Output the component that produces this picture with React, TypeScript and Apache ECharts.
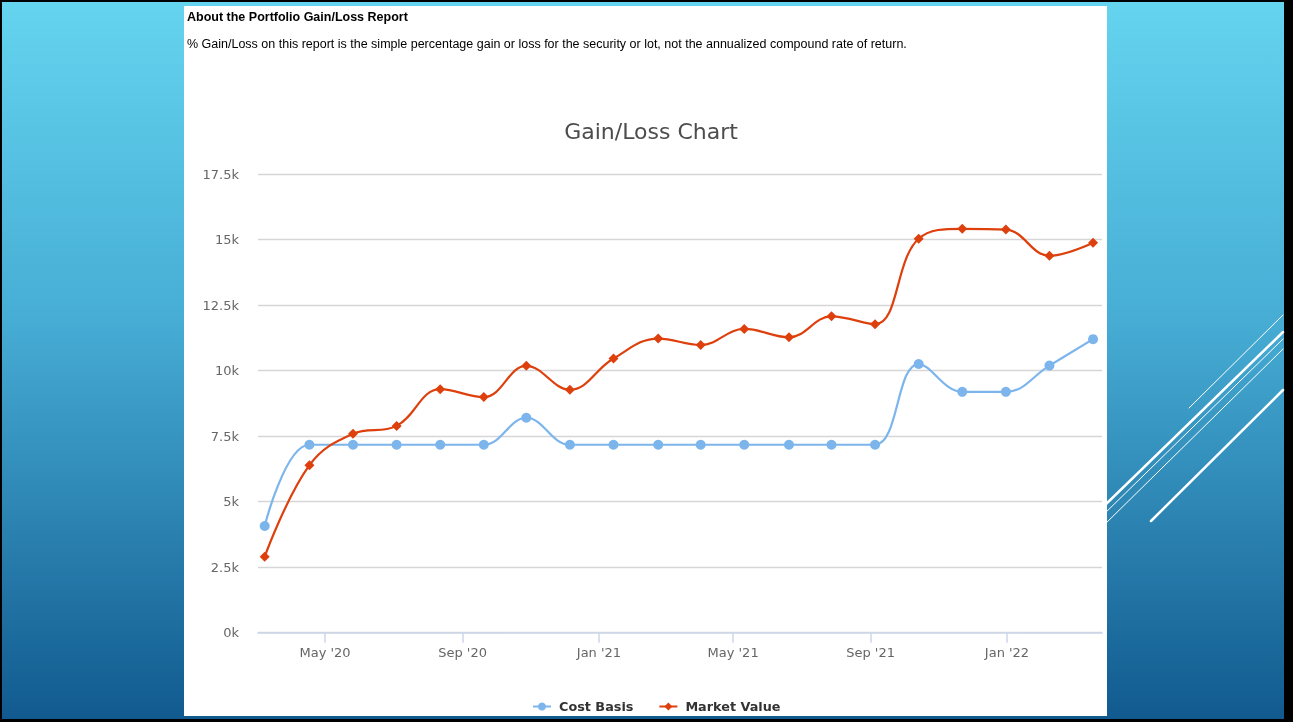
import React, { useEffect, useRef } from "react";
import * as echarts from "echarts";

const pointDates = [
  "2020-03-08", "2020-04-17", "2020-05-26", "2020-07-04", "2020-08-12",
  "2020-09-20", "2020-10-28", "2020-12-06", "2021-01-14", "2021-02-23",
  "2021-04-02", "2021-05-11", "2021-06-20", "2021-07-28", "2021-09-05",
  "2021-10-14", "2021-11-22", "2021-12-31", "2022-02-08", "2022-03-19",
];
const costBasis = [
  4070, 7170, 7170, 7170, 7170, 7170, 8200, 7170, 7170, 7170,
  7170, 7170, 7170, 7170, 7170, 10250, 9190, 9190, 10190, 11200,
];
const marketValue = [
  2900, 6390, 7590, 7890, 9290, 8990, 10180, 9270, 10460, 11220,
  10980, 11590, 11270, 12070, 11770, 15030, 15410, 15380, 14380, 14880,
];
const tickDates = ["2020-05-01", "2020-09-01", "2021-01-01", "2021-05-01", "2021-09-01", "2022-01-01"];
const tickLabels = ["May '20", "Sep '20", "Jan '21", "May '21", "Sep '21", "Jan '22"];
const axisStart = "2020-03-02";
const axisEnd = "2022-03-27";

const ts = (s: string) => {
  const [y, m, d] = s.split("-").map(Number);
  return Date.UTC(y, m - 1, d);
};

export default function App() {
  const ref = useRef<HTMLDivElement>(null);
  useEffect(() => {
    if (!ref.current) return;
    const chart = echarts.init(ref.current, null, { renderer: "svg" });
    const tickTs = tickDates.map(ts);
    const deco = [
      { x1: 1189, y1: 408, x2: 1283, y2: 315, w: 1 },
      { x1: 1100, y1: 510, x2: 1283, y2: 332, w: 2.5 },
      { x1: 1100, y1: 518, x2: 1283, y2: 339, w: 1 },
      { x1: 1100, y1: 529, x2: 1283, y2: 349, w: 1 },
      { x1: 1151, y1: 521, x2: 1283, y2: 390, w: 2.5 },
    ];
    chart.setOption({
      animation: false,
      graphic: [
        { type: "rect", z: -10, shape: { x: 0, y: 0, width: 1293, height: 722 }, style: { fill: "#000" } },
        {
          type: "rect", z: -9,
          shape: { x: 2, y: 2, width: 1282, height: 717 },
          style: {
            fill: new echarts.graphic.LinearGradient(0, 0, 0, 1, [
              { offset: 0, color: "#64d4ef" },
              { offset: 0.45, color: "#46acd4" },
              { offset: 1, color: "#115a8f" },
            ]),
          },
        },
        ...deco.map((d) => ({
          type: "line", z: -8,
          shape: { x1: d.x1, y1: d.y1, x2: d.x2, y2: d.y2 },
          style: { stroke: "#ffffff", lineWidth: d.w, lineCap: "round" },
        })),
        { type: "rect", z: -7, shape: { x: 184, y: 6, width: 923, height: 710 }, style: { fill: "#ffffff" } },
        {
          type: "text", z: -6, x: 187, y: 17,
          style: {
            text: "About the Portfolio Gain/Loss Report",
            font: "bold 12.5px 'Liberation Sans', Arial, sans-serif",
            fill: "#000", verticalAlign: "middle",
          },
        },
        {
          type: "text", z: -6, x: 187, y: 44,
          style: {
            text: "% Gain/Loss on this report is the simple percentage gain or loss for the security or lot, not the annualized compound rate of return.",
            font: "12.5px 'Liberation Sans', Arial, sans-serif",
            fill: "#000", verticalAlign: "middle",
          },
        },
      ],
      title: {
        text: "Gain/Loss Chart",
        left: 651,
        top: 120,
        padding: 0,
        textAlign: "center",
        textStyle: { fontFamily: "DejaVu Sans", fontSize: 22, fontWeight: "normal", color: "#4d4d4d" },
      },
      legend: {
        left: 532,
        top: 700,
        padding: 0,
        itemWidth: 18,
        itemHeight: 10,
        itemGap: 25,
        textStyle: { fontFamily: "DejaVu Sans", fontSize: 12.8, fontWeight: "bold", color: "#333", padding: [0, 0, 0, 3] },
        data: ["Cost Basis", "Market Value"],
      },
      grid: { left: 258, right: 191, top: 174, bottom: 89.3, containLabel: false },
      xAxis: {
        type: "value",
        min: ts(axisStart),
        max: ts(axisEnd),
        axisLine: { show: true, lineStyle: { color: "#ccd6eb", width: 1.5 } },
        axisTick: { show: true, customValues: tickTs, length: 10, lineStyle: { color: "#ccd6eb", width: 1.5 } },
        axisLabel: {
          customValues: tickTs,
          formatter: (v: number) => {
            const i = tickTs.indexOf(v);
            return i >= 0 ? tickLabels[i] : "";
          },
          color: "#666",
          fontFamily: "DejaVu Sans",
          fontSize: 13,
          margin: 13,
        },
        splitLine: { show: false },
      },
      yAxis: {
        type: "value",
        min: 0,
        max: 17500,
        interval: 2500,
        axisLine: { show: false },
        axisTick: { show: false },
        axisLabel: {
          formatter: (v: number) => v / 1000 + "k",
          color: "#666",
          fontFamily: "DejaVu Sans",
          fontSize: 13,
          margin: 19,
        },
        splitLine: { lineStyle: { color: "#d6d6d6", width: 1.3 } },
      },
      series: [
        {
          name: "Cost Basis",
          type: "line",
          smooth: 0.4,
          symbol: "circle",
          symbolSize: 10,
          color: "#7cb5ec",
          lineStyle: { width: 2.2, color: "#7cb5ec" },
          itemStyle: { color: "#7cb5ec" },
          data: pointDates.map((d, i) => [ts(d), costBasis[i]]),
        },
        {
          name: "Market Value",
          type: "line",
          smooth: 0.4,
          symbol: "diamond",
          symbolSize: 10,
          color: "#dd400c",
          lineStyle: { width: 2.2, color: "#dd400c" },
          itemStyle: { color: "#dd400c" },
          data: pointDates.map((d, i) => [ts(d), marketValue[i]]),
        },
      ],
    });
    return () => chart.dispose();
  }, []);
  return <div ref={ref} style={{ position: "fixed", left: 0, top: 0, width: 1293, height: 722 }} />;
}
